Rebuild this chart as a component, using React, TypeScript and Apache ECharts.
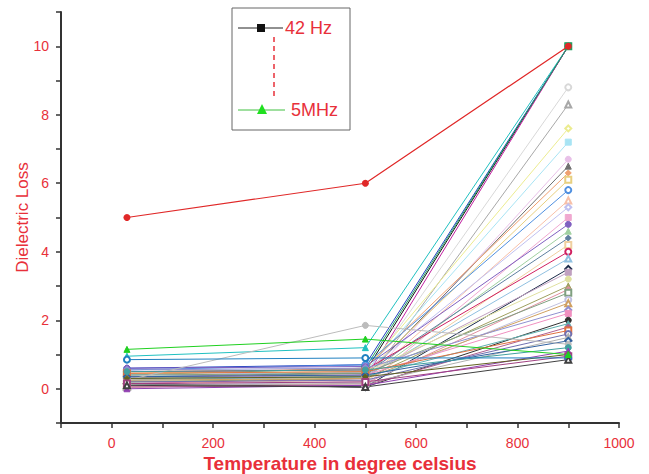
import React, { useEffect, useRef } from "react";
import * as echarts from "echarts";

const temperatures = [30, 500, 900];

const redLoss = [5.0, 6.0, 10.0];

const lossAt30 = [0.3, 0.6, 0.95, 0.15, 0.4, 0.2, 0.05, 0.5, 0.35, 0.1, 0.25, 0.45, 0.3, 0.55, 0.15, 0.4, 0.05, 0.6, 0.2, 0.35, 0.1, 0.5, 0.25, 0.15, 0.3, 0.45, 0.2, 0.05, 0.4, 0.1, 0.25, 0.55, 0.35, 0.15, 0.3, 0.05, 0.45, 0.2, 0.1, 0.35, 0.25, 0.5, 0.0, 0.3, 0.15, 0.85, 0.1, 1.15];
const lossAt500 = [0.5, 0.7, 1.2, 0.3, 0.6, 0.4, 0.15, 0.55, 0.5, 0.2, 0.35, 0.6, 0.45, 0.7, 0.25, 0.5, 0.1, 0.65, 0.3, 0.45, 0.2, 0.55, 0.35, 0.05, 0.4, 0.5, 0.3, 0.15, 0.45, 0.2, 0.3, 0.6, 0.4, 0.05, 0.35, 0.1, 0.5, 0.25, 0.15, 0.4, 1.85, 0.55, 0.1, 0.35, 0.2, 0.9, 0.05, 1.45];
const lossAt900 = [10, 10, 10, 10, 10, 8.8, 8.3, 7.6, 7.2, 6.7, 6.5, 6.3, 6.1, 5.8, 5.5, 5.3, 5.0, 4.8, 4.6, 4.4, 4.2, 4.0, 3.8, 3.5, 3.4, 3.2, 3.0, 2.9, 2.8, 2.6, 2.5, 2.3, 2.2, 2.0, 1.9, 1.8, 1.7, 1.6, 1.5, 1.4, 1.3, 1.2, 1.1, 1.0, 0.95, 0.9, 0.85, 1.0];

const legendLabels = ["42 Hz", "5MHz"];

const palette = [
  "#101010", "#2040c0", "#20c0c0", "#c020a0", "#20a060", "#d8d8d8", "#a8a8a8", "#ecec90",
  "#a8e4f4", "#e8c0e8", "#707070", "#f0a070", "#e8d080", "#5090e0", "#f8c0a8", "#c0c0f0",
  "#f0a8d0", "#8060c0", "#a0d0a0", "#6080a0", "#f0d0a0", "#d02060", "#90c0e0", "#1a2a48",
  "#c0a0c0", "#e0e0a0", "#a0a060", "#e090a0", "#80a080", "#c0c0e0", "#d0a060", "#9090d0",
  "#f090c0", "#303030", "#60b0b0", "#b06090", "#e07040", "#7070b0", "#b0b0b0", "#3060a0",
  "#bcbcbc", "#40a0a0", "#9040b0", "#606020", "#a04080", "#2080c0", "#404040", "#20d020",
];
const symbols = ["rect", "circle", "triangle", "diamond", "emptyRect", "emptyCircle", "emptyTriangle", "emptyDiamond"];

const RED = "#e8303a";
const FONT = "'Liberation Sans', Arial, sans-serif";

export default function App() {
  const ref = useRef<HTMLDivElement>(null);
  useEffect(() => {
    document.body.style.margin = "0";
    if (!ref.current) return;
    const chart = echarts.init(ref.current, null, { renderer: "svg" });
    const n = lossAt900.length;
    const series: any[] = [];
    for (let i = 0; i < n; i++) {
      const vals = [lossAt30[i], lossAt500[i], lossAt900[i]];
      const sym = i === n - 1 ? "triangle" : i === 40 ? "circle" : symbols[i % symbols.length];
      series.push({
        type: "line",
        data: temperatures.map((t, k) => [t, vals[k]]),
        symbol: sym,
        symbolSize: 6,
        lineStyle: { width: 1, color: palette[i] },
        itemStyle: { color: palette[i], borderColor: palette[i] },
        silent: true,
        z: 2,
      });
    }
    series.push({
      type: "line",
      data: temperatures.map((t, k) => [t, redLoss[k]]),
      symbol: "circle",
      symbolSize: 7,
      lineStyle: { width: 1.2, color: "#e02828" },
      itemStyle: { color: "#e02828" },
      z: 3,
    });

    chart.setOption({
      animation: false,
      backgroundColor: "#ffffff",
      grid: { left: 61, right: 30, top: 12, bottom: 51, containLabel: false, outerBoundsMode: "none" },
      xAxis: {
        type: "value",
        min: -100,
        max: 1000,
        interval: 100,
        name: "Temperature in degree celsius",
        nameLocation: "middle",
        nameGap: 31,
        nameMoveOverlap: false,
        nameTextStyle: { color: RED, fontSize: 19, fontWeight: "bold", fontFamily: FONT },
        axisLine: { show: true, onZero: false, lineStyle: { color: "#333", width: 2 } },
        axisTick: { show: true, length: 5, lineStyle: { color: "#333", width: 1.5 } },
        axisLabel: {
          color: RED,
          fontSize: 14,
          fontFamily: FONT,
          margin: 13,
          formatter: (v: number) => (v >= 0 && v % 200 === 0 ? String(v) : ""),
        },
        splitLine: { show: false },
      },
      yAxis: {
        type: "value",
        min: -1,
        max: 11,
        interval: 1,
        name: "Dielectric Loss",
        nameLocation: "middle",
        nameGap: 30,
        nameMoveOverlap: false,
        nameTextStyle: { color: RED, fontSize: 17, fontFamily: FONT },
        axisLine: { show: true, onZero: false, lineStyle: { color: "#333", width: 2 } },
        axisTick: { show: true, length: 5, lineStyle: { color: "#333", width: 1.5 } },
        axisLabel: {
          color: RED,
          fontSize: 14,
          fontFamily: FONT,
          margin: 12,
          formatter: (v: number) => (v >= 0 && v <= 10 && v % 2 === 0 ? String(v) : ""),
        },
        splitLine: { show: false },
      },
      series,
      graphic: [
        {
          type: "rect",
          shape: { x: 232, y: 8, width: 118, height: 122 },
          style: { fill: "#ffffff", stroke: "#666", lineWidth: 1 },
          z: 10,
        },
        { type: "line", shape: { x1: 238, y1: 28, x2: 283, y2: 28 }, style: { stroke: "#222", lineWidth: 1 }, z: 11 },
        { type: "rect", shape: { x: 257, y: 24, width: 8, height: 8 }, style: { fill: "#111" }, z: 12 },
        {
          type: "text",
          x: 285,
          y: 28,
          style: { text: legendLabels[0], fill: RED, fontSize: 18, fontFamily: FONT, verticalAlign: "middle" },
          z: 12,
        },
        {
          type: "line",
          shape: { x1: 274, y1: 37, x2: 274, y2: 98 },
          style: { stroke: RED, lineWidth: 1.5, lineDash: [5, 4] },
          z: 11,
        },
        { type: "line", shape: { x1: 238, y1: 110, x2: 285, y2: 110 }, style: { stroke: "#40c040", lineWidth: 1 }, z: 11 },
        { type: "polygon", shape: { points: [[262, 104], [257, 114], [267, 114]] }, style: { fill: "#20e020" }, z: 12 },
        {
          type: "text",
          x: 291,
          y: 110,
          style: { text: legendLabels[1], fill: RED, fontSize: 18, fontFamily: FONT, verticalAlign: "middle" },
          z: 12,
        },
      ],
    });
    return () => chart.dispose();
  }, []);
  return <div ref={ref} style={{ width: 649, height: 474 }} />;
}
